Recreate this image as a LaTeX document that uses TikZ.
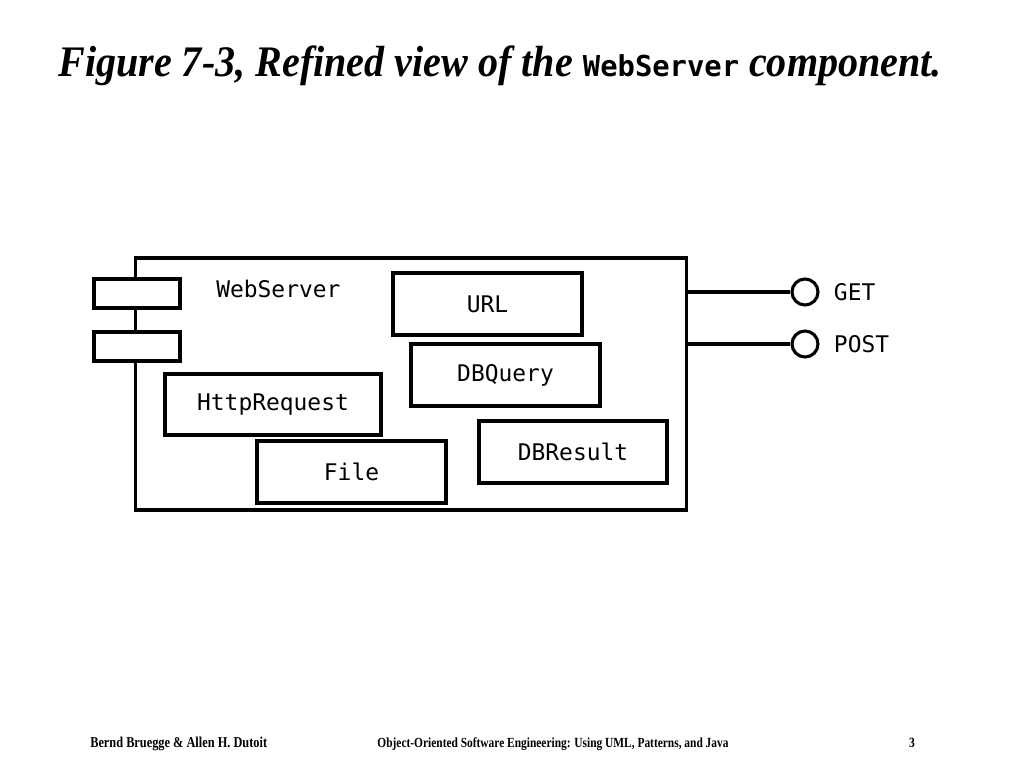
\documentclass[tikz,border=0pt]{standalone}
\usepackage{fontspec}
\setmainfont{Liberation Serif}
\newfontfamily\slidefont[FakeStretch=0.92]{Liberation Serif}
\newfontfamily\footfont[FakeStretch=0.82]{Liberation Serif}
\newfontfamily\codefont{DejaVu Sans Mono}
\usepackage{tikz}

\tikzset{
        cls/.style={draw, line width=2.2pt, rectangle, minimum width=4.725cm, minimum height=1.55cm, font=\codefont\fontsize{16.3}{18}\selectfont},
        tab/.style={draw, line width=2.2pt, fill=white, rectangle, minimum width=2.15cm, minimum height=0.725cm},
        port/.style={draw, line width=2.2pt, circle, minimum size=0.65cm, inner sep=0pt},
        portlabel/.style={anchor=west, font=\codefont\fontsize{16.3}{18}\selectfont}
}

\begin{document}
\begin{tikzpicture}[x=0.025cm, y=-0.025cm]
        \useasboundingbox (0,0) rectangle (1024,768);
        % title
        \node (title) [anchor=base west, inner sep=0pt] at (58, 77) {\slidefont\bfseries\itshape\fontsize{31}{34}\selectfont Figure 7-3, Refined view of the {\codefont\upshape\fontsize{20.5}{22}\selectfont WebServer} component.};
        % component
        \node (ws) [draw, line width=2.2pt, minimum width=13.75cm, minimum height=6.3cm] at (411, 384) {};
        \node (tab1) [tab] at (137, 293.5) {};
        \node (tab2) [tab] at (137, 346.5) {};
        \node (wsname) [anchor=west, inner sep=0pt, font=\codefont\fontsize{16.3}{18}\selectfont] at (216, 289) {WebServer};
        \node (url) [cls] at (487.5, 304) {URL};
        \node (dbquery) [cls] at (505.5, 375) {DBQuery};
        \node (httpreq) [cls, minimum width=5.4cm, minimum height=1.525cm] at (273, 404.5) {HttpRequest};
        \node (file) [cls] at (351.5, 472) {File};
        \node (dbresult) [cls, minimum width=4.7cm] at (573, 452) {DBResult};
        % ports
        \node (get) [port] at (805, 292) {};
        \node (post) [port] at (805, 344) {};
        \node (getname) [portlabel] at (829, 292) {GET};
        \node (postname) [portlabel] at (829, 344) {POST};
        \draw [line width=2.2pt] (ws.east |- get) -- (get);
        \draw [line width=2.2pt] (ws.east |- post) -- (post);
        % footer
        \node (authors) [anchor=base west, inner sep=0pt] at (90, 747) {\footfont\bfseries\fontsize{10.7}{12}\selectfont Bernd Bruegge \& Allen H. Dutoit};
        \node (book) [anchor=base, inner sep=0pt] at (553, 747) {\footfont\bfseries\fontsize{9.9}{12}\selectfont Object-Oriented Software Engineering: Using UML, Patterns, and Java};
        \node (page) [anchor=base, inner sep=0pt] at (912, 747) {\footfont\bfseries\fontsize{10}{12}\selectfont 3};
\end{tikzpicture}
\end{document}
